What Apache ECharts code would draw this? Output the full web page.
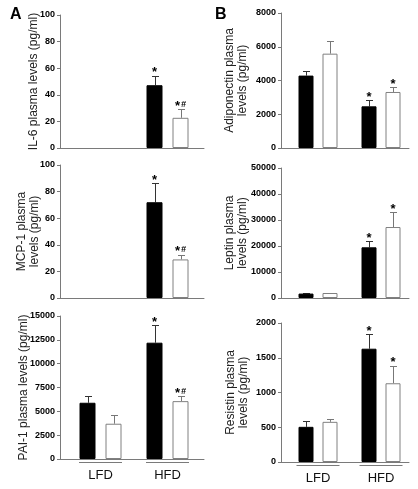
<!DOCTYPE html>
<html>
<head>
<meta charset="utf-8">
<script src="https://cdn.jsdelivr.net/npm/echarts@6/dist/echarts.min.js"></script>
<style>
html,body{margin:0;padding:0;background:#fff;}
#c{width:418px;height:489px;}
</style>
</head>
<body>
<div id="c"></div>
<script>
// ---- data ----
var groups = ['LFD', 'HFD'];

var il6Black = [null, 47.2];
var il6BlackErr = [null, 54.5];
var il6White = [null, 22.7];
var il6WhiteErr = [null, 29];
var il6BlackStar = ['', '*'];
var il6WhiteStar = ['', '*#'];

var mcpBlack = [null, 72];
var mcpBlackErr = [null, 86.5];
var mcpWhite = [null, 29];
var mcpWhiteErr = [null, 32.7];
var mcpBlackStar = ['', '*'];
var mcpWhiteStar = ['', '*#'];

var paiBlack = [5900, 12200];
var paiBlackErr = [6560, 14020];
var paiWhite = [3700, 6070];
var paiWhiteErr = [4600, 6560];
var paiBlackStar = ['', '*'];
var paiWhiteStar = ['', '*#'];

var adipoBlack = [4290, 2470];
var adipoBlackErr = [4560, 2840];
var adipoWhite = [5590, 3320];
var adipoWhiteErr = [6340, 3600];
var adipoBlackStar = ['', '*'];
var adipoWhiteStar = ['', '*'];

var leptinBlack = [1700, 19500];
var leptinBlackErr = [1800, 21800];
var leptinWhite = [1920, 27300];
var leptinWhiteErr = [2050, 33000];
var leptinBlackStar = ['', '*'];
var leptinWhiteStar = ['', '*'];

var resistinBlack = [506, 1630];
var resistinBlackErr = [590, 1840];
var resistinWhite = [578, 1133];
var resistinWhiteErr = [625, 1388];
var resistinBlackStar = ['', '*'];
var resistinWhiteStar = ['', '*'];

var il6Ticks = [0, 100, 20];
var mcpTicks = [0, 100, 20];
var paiTicks = [0, 15000, 2500];
var adipoTicks = [0, 8000, 2000];
var leptinTicks = [0, 50000, 10000];
var resistinTicks = [0, 2000, 500];

var titles = {
  il6: 'IL-6 plasma levels (pg/ml)',
  mcp: 'MCP-1 plasma\nlevels (pg/ml)',
  pai: 'PAI-1 plasma levels (pg/ml)',
  adipo: 'Adiponectin plasma\nlevels (pg/ml)',
  leptin: 'Leptin plasma\nlevels (pg/ml)',
  resistin: 'Resistin plasma\nlevels (pg/ml)'
};

// ---- layout / style ----
var FONT = 'Liberation Sans, Arial, sans-serif';
var AXIS = '#7a7a7a';
var colA = { left: 60, width: 144, centers: [40.5, 107.5], barW: 16, gap: 10 };
var colB = { left: 281, width: 128, centers: [37, 100], barW: 15, gap: 9 };

var panels = [
  { col: colA, top: 15, height: 133, ticks: il6Ticks, name: titles.il6, b: il6Black, be: il6BlackErr, w: il6White, we: il6WhiteErr, bs: il6BlackStar, ws: il6WhiteStar, labels: false, nameGap: 20 },
  { col: colA, top: 165, height: 133, ticks: mcpTicks, name: titles.mcp, b: mcpBlack, be: mcpBlackErr, w: mcpWhite, we: mcpWhiteErr, bs: mcpBlackStar, ws: mcpWhiteStar, labels: false, nameGap: 19 },
  { col: colA, top: 316, height: 143, ticks: paiTicks, name: titles.pai, b: paiBlack, be: paiBlackErr, w: paiWhite, we: paiWhiteErr, bs: paiBlackStar, ws: paiWhiteStar, labels: true, nameGap: 30 },
  { col: colB, top: 13, height: 135, ticks: adipoTicks, name: titles.adipo, b: adipoBlack, be: adipoBlackErr, w: adipoWhite, we: adipoWhiteErr, bs: adipoBlackStar, ws: adipoWhiteStar, labels: false, nameGap: 32 },
  { col: colB, top: 168, height: 130, ticks: leptinTicks, name: titles.leptin, b: leptinBlack, be: leptinBlackErr, w: leptinWhite, we: leptinWhiteErr, bs: leptinBlackStar, ws: leptinWhiteStar, labels: false, nameGap: 32 },
  { col: colB, top: 323, height: 139, ticks: resistinTicks, name: titles.resistin, b: resistinBlack, be: resistinBlackErr, w: resistinWhite, we: resistinWhiteErr, bs: resistinBlackStar, ws: resistinWhiteStar, labels: true, nameGap: 31 }
];

function errRender(offset, color) {
  return function (params, api) {
    var x = api.value(0), top = api.value(1), hi = api.value(2);
    var p1 = api.coord([x, top]);
    var p2 = api.coord([x, hi]);
    var cx = Math.round(p1[0] + offset) + 0.5;
    var cy = Math.round(p2[1]) + 0.5;
    return {
      type: 'group', children: [
        { type: 'line', shape: { x1: cx, y1: p1[1], x2: cx, y2: cy }, style: { stroke: color, lineWidth: 1 } },
        { type: 'line', shape: { x1: cx - 3.5, y1: cy, x2: cx + 3.5, y2: cy }, style: { stroke: color, lineWidth: 1 } }
      ]
    };
  };
}

function starRender(offset, stars) {
  return function (params, api) {
    var s = stars[params.dataIndex];
    if (!s) return;
    var p = api.coord([api.value(0), api.value(1)]);
    var txt = s === '*#' ? '{s|*}{h|#}' : '{s|*}';
    return {
      type: 'text',
      x: p[0] + offset,
      y: p[1] - 3,
      style: {
        text: txt, align: 'center', verticalAlign: 'middle', fill: '#000',
        rich: {
          s: { fontSize: 13, fontWeight: 'bold', fontFamily: FONT, fill: '#000' },
          h: { fontSize: 9, fontWeight: 'bold', fontStyle: 'italic', fontFamily: FONT, fill: '#000', padding: [0, 0, 4, 1] }
        }
      }
    };
  };
}

var grid = [], xAxis = [], yAxis = [], series = [];
panels.forEach(function (p, i) {
  var c = p.col;
  var off = (c.barW + c.gap) / 2;
  grid.push({ left: c.left, top: p.top, width: c.width, height: p.height });
  xAxis.push({
    type: 'value', gridIndex: i, min: 0, max: c.width,
    axisLine: { show: true, onZero: false, lineStyle: { color: AXIS, width: 1 } },
    axisTick: { show: false },
    splitLine: { show: false },
    axisLabel: p.labels ? {
      show: true, margin: 3, customValues: c.centers,
      formatter: function (v) {
        var k = c.centers.indexOf(v);
        if (k < 0) k = v < c.width / 2 ? 0 : 1;
        return '{u|}\n{t|' + groups[k] + '}';
      },
      rich: {
        u: { width: 43, height: 1, lineHeight: 1, backgroundColor: AXIS },
        t: { fontSize: 13, fontFamily: FONT, color: '#111', lineHeight: 18, padding: [6, 0, 0, 0] }
      }
    } : { show: false }
  });
  yAxis.push({
    type: 'value', gridIndex: i, min: p.ticks[0], max: p.ticks[1], interval: p.ticks[2],
    name: p.name, nameLocation: 'middle', nameGap: p.nameGap, nameMoveOverlap: false,
    nameTextStyle: { fontSize: 12, fontFamily: FONT, color: '#222', lineHeight: 13 },
    axisLine: { show: true, lineStyle: { color: AXIS, width: 1 } },
    axisTick: { show: true, length: 3, lineStyle: { color: AXIS } },
    splitLine: { show: false },
    axisLabel: { fontSize: 9, fontWeight: 'bold', fontFamily: FONT, color: '#000', margin: 5,
      formatter: function (v) { return String(v); } }
  });
  var bData = [], wData = [], beData = [], weData = [], bsData = [], wsData = [], bsText = [], wsText = [];
  groups.forEach(function (g, k) {
    var gx = c.centers[k];
    bData.push([gx, p.b[k]]);
    wData.push([gx, p.w[k]]);
    if (p.b[k] != null) {
      beData.push([gx, p.b[k], p.be[k]]);
      bsData.push([gx, p.be[k]]);
      bsText.push(p.bs[k]);
    }
    if (p.w[k] != null) {
      weData.push([gx, p.w[k], p.we[k]]);
      wsData.push([gx, p.we[k]]);
      wsText.push(p.ws[k]);
    }
  });
  var gapPct = (c.gap / c.barW * 100) + '%';
  series.push({
    type: 'bar', xAxisIndex: i, yAxisIndex: i, barWidth: c.barW, barGap: gapPct,
    data: bData, itemStyle: { color: '#000', borderColor: '#000', borderWidth: 1 }, silent: true
  });
  series.push({
    type: 'bar', xAxisIndex: i, yAxisIndex: i, barWidth: c.barW, barGap: gapPct,
    data: wData, itemStyle: { color: '#fff', borderColor: '#808080', borderWidth: 1 }, silent: true
  });
  series.push({ type: 'custom', xAxisIndex: i, yAxisIndex: i, data: beData, renderItem: errRender(-off, '#333'), silent: true, z: 1 });
  series.push({ type: 'custom', xAxisIndex: i, yAxisIndex: i, data: weData, renderItem: errRender(off, '#777'), silent: true, z: 1 });
  series.push({ type: 'custom', xAxisIndex: i, yAxisIndex: i, data: bsData, renderItem: starRender(-off, bsText), silent: true, clip: false });
  series.push({ type: 'custom', xAxisIndex: i, yAxisIndex: i, data: wsData, renderItem: starRender(off, wsText), silent: true, clip: false });
});

var chart = echarts.init(document.getElementById('c'), null, { renderer: 'canvas' });
chart.setOption({
  animation: false,
  backgroundColor: '#fff',
  title: [
    { text: 'A', left: 5, top: 2, textStyle: { fontSize: 16, fontWeight: 'bold', fontFamily: FONT, color: '#000' } },
    { text: 'B', left: 210, top: 2, textStyle: { fontSize: 16, fontWeight: 'bold', fontFamily: FONT, color: '#000' } }
  ],
  grid: grid, xAxis: xAxis, yAxis: yAxis, series: series
});
</script>
</body>
</html>
